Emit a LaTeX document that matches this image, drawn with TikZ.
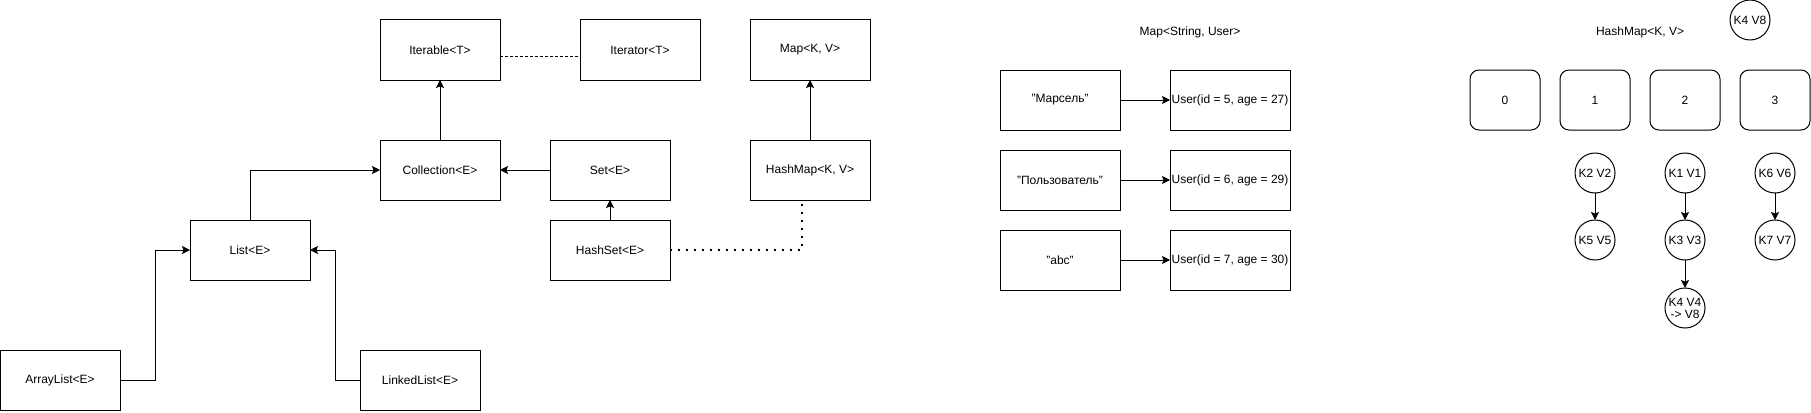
\documentclass[tikz,border=0pt]{standalone}
\usepackage{fontspec}
\setmainfont{Liberation Sans}
\usetikzlibrary{arrows.meta, positioning}

\begin{document}
\begin{tikzpicture}[x=1pt, y=-1pt, node distance=60pt and 50pt, line width=1pt,
	font=\fontsize{12}{14}\selectfont,
	>={Stealth[length=8pt, width=8pt, inset=1.5pt]},
	box/.style={draw, minimum width=120pt, minimum height=60pt, inner sep=0pt, outer sep=0pt},
	bucket/.style={box, minimum width=70pt, rounded corners=9pt},
	kv/.style={draw, circle, minimum size=40pt, inner sep=0pt, outer sep=0pt, align=center, font=\fontsize{12}{12}\selectfont},
	dots/.style={line width=1.6pt, dash pattern=on 1.6pt off 6.4pt}]
	\useasboundingbox (0,0) rectangle (1811,412);

	\node [box] at (440,50)        (iter)  {Iterable<T>};
	\node [box, right=80pt of iter] (itor)  {Iterator<T>};
	\node [box, below=of iter]      (coll)  {Collection<E>};
	\node [box, right=of coll]      (set)   {Set<E>};
	\node [box, below=20pt of set]  (hset)  {HashSet<E>};
	\node [box] at (810,50)        (map)   {Map<K, V>};
	\node [box, below=of map]       (hmap)  {HashMap<K, V>};
	\node [box] at (250,250)       (list)  {List<E>};
	\node [box] at (60,380)        (alist) {ArrayList<E>};
	\node [box] at (420,380)       (llist) {LinkedList<E>};

	\draw[->] (coll) -- (iter);
	\draw[->] (set) -- (coll);
	\draw[->] (hset) -- (set);
	\draw[->] (hmap) -- (map);
	\draw[->] (list.north) |- (coll.west);
	\draw[->] (alist.east) -- ++(35,0) |- (list.west);
	\draw[->] (llist.west) -- ++(-25,0) |- (list.east);
	\draw[dash pattern=on 3pt off 2pt] ([yshift=-7pt]iter.east) -- ([yshift=-7pt]itor.west);
	\draw[dots] (hset.east) -| ([xshift=-8pt]hmap.south);

	\node at (1190,32) (mtitle) {Map<String, User>};
	\node [box] at (1060,100)    (k1) {"Марсель"};
	\node [box, right=of k1]     (u1) {User(id = 5, age = 27)};
	\node [box, below=20pt of k1] (k2) {"Пользователь"};
	\node [box, right=of k2]     (u2) {User(id = 6, age = 29)};
	\node [box, below=20pt of k2] (k3) {"abc"};
	\node [box, right=of k3]     (u3) {User(id = 7, age = 30)};

	\draw[->] (k1) -- (u1);
	\draw[->] (k2) -- (u2);
	\draw[->] (k3) -- (u3);

	\node at (1640,32) (htitle) {HashMap<K, V>};
	\node [kv] at (1750,20) (k4v8) {K4 V8};
	\node [bucket] at (1505,100)  (b0) {0};
	\node [bucket, right=20pt of b0] (b1) {1};
	\node [bucket, right=20pt of b1] (b2) {2};
	\node [bucket, right=20pt of b2] (b3) {3};
	\node [kv, below=23pt of b1]   (k2v2) {K2 V2};
	\node [kv, below=27pt of k2v2] (k5v5) {K5 V5};
	\node [kv, below=23pt of b2]   (k1v1) {K1 V1};
	\node [kv, below=27pt of k1v1] (k3v3) {K3 V3};
	\node [kv, below=28pt of k3v3] (k4v4) {K4 V4\\-> V8};
	\node [kv, below=23pt of b3]   (k6v6) {K6 V6};
	\node [kv, below=27pt of k6v6] (k7v7) {K7 V7};

	\draw[->] (k2v2) -- (k5v5);
	\draw[->] (k1v1) -- (k3v3);
	\draw[->] (k3v3) -- (k4v4);
	\draw[->] (k6v6) -- (k7v7);

\end{tikzpicture}
\end{document}
